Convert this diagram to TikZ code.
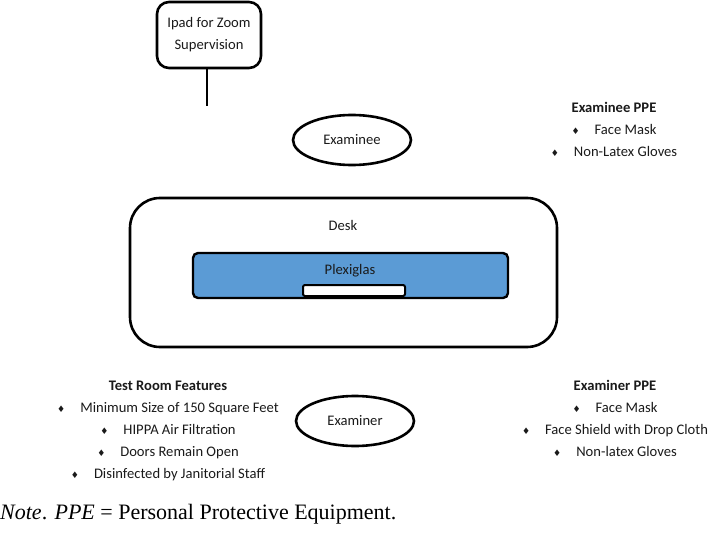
\documentclass[tikz,border=0pt]{standalone}
\usepackage{fontspec}
\setmainfont{Carlito}
\newfontfamily\notefont{Liberation Serif}
\newfontfamily\symfont{DejaVu Sans}
\usetikzlibrary{shapes.geometric, positioning}

\definecolor{plexiblue}{HTML}{5B9BD5}
\definecolor{txtgray}{HTML}{1A1A1A}
\newcommand{\bul}{{\symfont\fontsize{9}{9}\selectfont ♦}\hspace{15pt}}

\begin{document}
\begin{tikzpicture}[x=1pt, y=-1pt,
    every node/.style={text=txtgray, font=\fontsize{14.6}{22}\selectfont},
    box/.style={draw=black, line width=2.6pt, rounded corners=12pt},
    person/.style={draw=black, ellipse, line width=2.6pt, minimum width=118pt, minimum height=50pt},
    plist/.style={align=center, anchor=north}
]
\useasboundingbox (0,0) rectangle (708,537);

% iPad on its stand
\node[box, minimum width=104pt, minimum height=66pt, align=center] (ipad) at (209,35) {Ipad for Zoom\\Supervision};
\coordinate (stand) at (207,106);
\draw[line width=2.6pt] (ipad.south -| stand) -- (stand);

% people
\node[person] (examinee) at (352,140) {Examinee};
\node[person] (examiner) at (355,421) {Examiner};

% desk with plexiglas
\node[box, rounded corners=30pt, minimum width=427pt, minimum height=149pt] (desk) at (343.5,272.5) {};
\node (desklbl) at (343,225) {Desk};
\node[draw=black, fill=plexiblue, line width=2.4pt, rounded corners=5pt, minimum width=315pt, minimum height=45pt] (plexi) at (350.5,275.5) {};
\node (plexilbl) at (350,271) {Plexiglas};
\node[draw=black, fill=white, line width=2pt, rounded corners=2pt, minimum width=102pt, minimum height=11pt, inner sep=0pt] (slot) at (354,290.5) {};

% lists
\node[plist] (eeppe) at (614,99) {\textbf{Examinee PPE}\\\bul Face Mask\\\bul Non-Latex Gloves};
\node[plist] (features) at (168,377) {\textbf{Test Room Features}\\\bul Minimum Size of 150 Square Feet\\\bul HIPPA Air Filtration\\\bul Doors Remain Open\\\bul Disinfected by Janitorial Staff};
\node[plist] (erppe) at (615,377) {\textbf{Examiner PPE}\\\bul Face Mask\\\bul Face Shield with Drop Cloth\\\bul Non-latex Gloves};

% note
\node[anchor=west, text=black, font=\notefont\fontsize{22}{26}\selectfont, inner sep=0pt] (note) at (0,514) {\textit{Note}. \textit{PPE} = Personal Protective Equipment.};
\end{tikzpicture}
\end{document}
